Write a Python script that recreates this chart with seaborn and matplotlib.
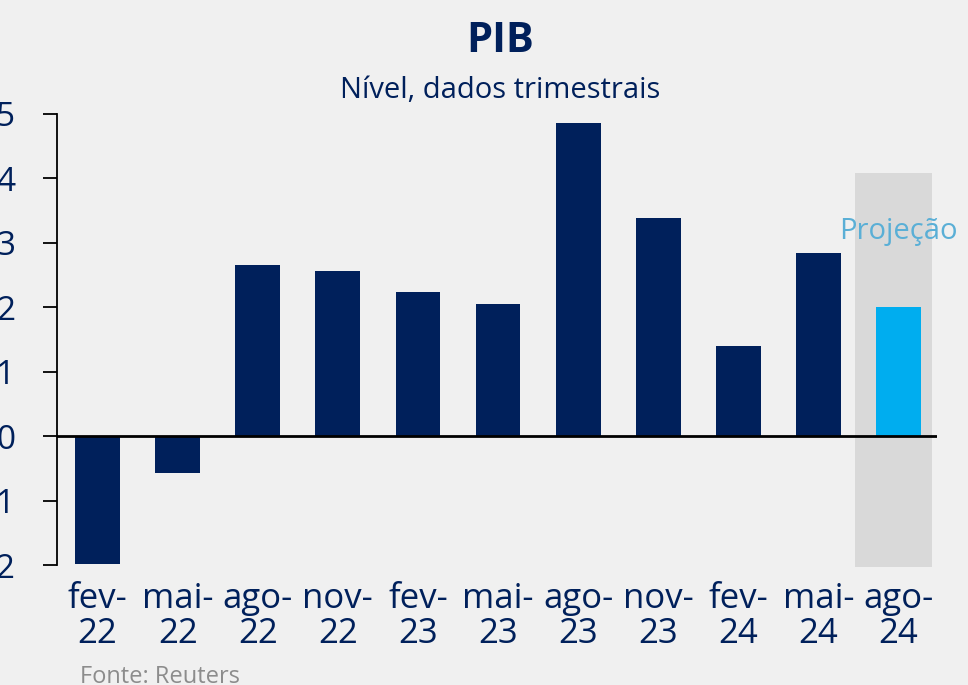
import matplotlib
matplotlib.use("Agg")
import matplotlib.pyplot as plt
import seaborn as sns
import pandas as pd

categories = ["fev-\n22", "mai-\n22", "ago-\n22", "nov-\n22", "fev-\n23", "mai-\n23",
              "ago-\n23", "nov-\n23", "fev-\n24", "mai-\n24", "ago-\n24"]
values = [-1.99, -0.57, 2.66, 2.56, 2.24, 2.05, 4.86, 3.39, 1.40, 2.84, 2.00]
kinds = ["Realizado"] * 10 + ["Projeção"]
yticks = [-2, -1, 0, 1, 2, 3, 4, 5]

NAVY = "#00205B"
LIGHT = "#00ADEF"
BG = "#F0F0F0"

sns.set_theme(style="white")
plt.rcParams["font.family"] = ["Open Sans", "DejaVu Sans"]

df = pd.DataFrame({"cat": categories, "val": values, "tipo": kinds})

fig = plt.figure(figsize=(9.68, 6.85), dpi=100, facecolor=BG)
ax = fig.add_axes([57 / 968, 1 - 565 / 685, (937 - 57) / 968, (565 - 114) / 685])
ax.set_facecolor(BG)

# projection band
ax.axvspan(9.46, 10.42, ymin=-0.004, ymax=(4.08 + 2) / 7, color="#D9D9D9", zorder=0, clip_on=False, lw=0)

sns.barplot(data=df, x="cat", y="val", hue="tipo", palette={"Realizado": NAVY, "Projeção": LIGHT},
            dodge=False, width=0.56, legend=False, ax=ax, zorder=2, saturation=1, linewidth=0)

ax.axhline(0, color="black", lw=2, zorder=3)
ax.set_xlim(-0.506, 10.48)
ax.set_ylim(-2, 5)
ax.set_yticks(yticks)
ax.set_yticklabels([str(t) for t in yticks])
ax.set_xlabel("")
ax.set_ylabel("")

for s in ["top", "right", "bottom"]:
    ax.spines[s].set_visible(False)
ax.spines["left"].set_color("black")
ax.spines["left"].set_linewidth(1.3)

ax.tick_params(axis="y", which="both", left=True, length=10, width=1.3, color="black",
               labelsize=24, labelcolor=NAVY, pad=20)
ax.tick_params(axis="x", which="both", bottom=False, labelsize=25, labelcolor=NAVY, pad=6)
for lbl in ax.get_xticklabels():
    lbl.set_linespacing(1.05)

ax.text(10, 3.17, "Projeção", ha="center", va="center", fontsize=21, color="#5AAFD6", zorder=4)

fig.text(500 / 968, 1 - 42 / 685, "PIB", ha="center", va="center", fontsize=30,
         fontweight="bold", color=NAVY)
fig.text(500 / 968, 1 - 90 / 685, "Nível, dados trimestrais", ha="center", va="center",
         fontsize=21, color=NAVY)
fig.text(80 / 968, 1 - 677 / 685, "Fonte: Reuters", ha="left", va="center", fontsize=17,
         color="#8C8C8C")

fig.savefig("out.png", dpi=100, facecolor=BG)
